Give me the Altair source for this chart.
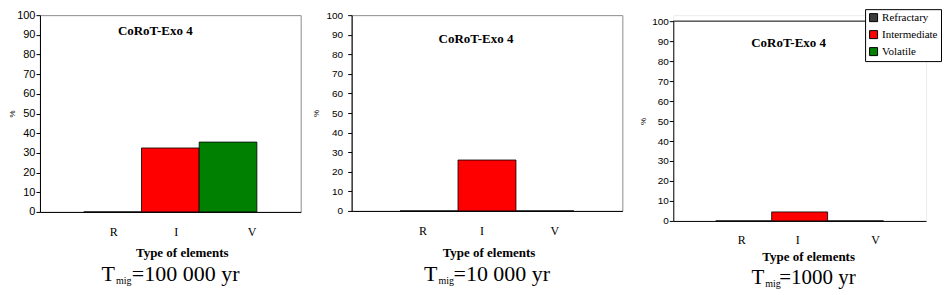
import altair as alt
import pandas as pd

# ---- data ----
cats = ["R", "I", "V"]
series = ["Refractary", "Intermediate", "Volatile"]
colors = ["#3c3c3c", "#ff0000", "#008000"]
vals_p1 = [0, 32.5, 35.5]
vals_p2 = [0, 26, 0]
vals_p3 = [0, 4.5, 0]
panel_title = "CoRoT-Exo 4"
x_title = "Type of elements"
y_title = "%"
tmig_T = "T"
tmig_sub = "mig"
tmig_rest = ["=100 000 yr", "=10 000 yr", "=1000 yr"]
y_ticks = list(range(0, 101, 10))

SERIF = "Liberation Serif"
SANS = "Liberation Sans"

legend = alt.Legend(
    orient="none", legendX=826, legendY=-6, title=None,
    symbolType="square", symbolSize=64, symbolStrokeColor="black",
    symbolStrokeWidth=1, labelFont=SERIF, labelFontSize=11,
    labelColor="black", strokeColor="black", fillColor="white",
    padding=3, rowPadding=4, labelOffset=3,
)


def panel(vals, w, h, yrange, po, offs, ylab_size, ylab_pad, ytitle_pad, tx, ty, lpad,
          ct, tm, tsize, rest, stroke, top_rule=False):
    df = pd.DataFrame({"cat": cats, "series": series, "val": vals})
    off_cond = {
        "condition": [
            {"test": "datum.value === 'R'", "value": offs[0]},
            {"test": "datum.value === 'I'", "value": offs[1]},
        ],
        "value": offs[2],
    }
    yscale = alt.Scale(domain=[0, 100], nice=False, range=yrange)
    yaxis = alt.Axis(
        values=y_ticks, grid=False, domainColor="black",
        tickColor="black", tickSize=4, labelFont=SANS,
        labelFontSize=ylab_size, labelPadding=ylab_pad, labelColor="black",
        title=y_title, titleFont=SANS, titleFontSize=8,
        titleFontWeight="normal", titleColor="black", titlePadding=ytitle_pad,
    )
    bars = alt.Chart(df).mark_bar(stroke="black", strokeWidth=0.8).encode(
        x=alt.X(
            "cat:N", sort=cats,
            scale=alt.Scale(domain=cats, paddingInner=0, paddingOuter=po),
            axis=alt.Axis(
                title=x_title, titleFont=SERIF, titleFontWeight="bold",
                titleFontSize=13, titleColor="black", titleX=tx, titleY=ty,
                titleBaseline="middle", ticks=False, domainColor="black",
                labelFont=SERIF, labelFontSize=12, labelColor="black",
                labelPadding=lpad, labelAngle=0, labelOffset=off_cond,
            ),
        ),
        y=alt.Y("val:Q", scale=yscale, axis=yaxis),
        color=alt.Color("series:N", scale=alt.Scale(domain=series, range=colors), legend=legend),
    )
    layers = [bars]
    if top_rule:
        layers.append(
            alt.Chart(pd.DataFrame({"val": [100]})).mark_rule(color="black", strokeWidth=1).encode(
                y=alt.Y("val:Q", scale=yscale, axis=yaxis))
        )
    tdf = pd.DataFrame({"t": [panel_title]})
    layers.append(
        alt.Chart(tdf).mark_text(font=SERIF, fontWeight="bold", fontSize=13, align="left",
                                 baseline="middle", color="black").encode(
            text="t:N", x=alt.value(ct[0]), y=alt.value(ct[1]))
    )
    layers.append(
        alt.Chart(pd.DataFrame({"t": [tmig_T]})).mark_text(font=SERIF, fontSize=tsize, align="right",
                                                          baseline="alphabetic", color="black").encode(
            text="t:N", x=alt.value(tm[0]), y=alt.value(tm[1]))
    )
    layers.append(
        alt.Chart(pd.DataFrame({"t": [tmig_sub]})).mark_text(font=SERIF, fontSize=10, align="left",
                                                            baseline="alphabetic", color="black").encode(
            text="t:N", x=alt.value(tm[0] + 1), y=alt.value(tm[1] + 3))
    )
    layers.append(
        alt.Chart(pd.DataFrame({"t": [rest]})).mark_text(font=SERIF, fontSize=tsize, align="left",
                                                        baseline="alphabetic", color="black").encode(
            text="t:N", x=alt.value(tm[2]), y=alt.value(tm[1]))
    )
    return alt.layer(*layers).properties(width=w, height=h, view=alt.ViewBackground(stroke=stroke))


p1 = panel(vals_p1, 261, 197, [197, 0], 0.759, [1, 6, 24], 11, 1, 0, 142, 41, 15,
           (78, 16), (75, 266, 92), 22, tmig_rest[0], "#8c8c8c")
p2 = panel(vals_p2, 271, 196, [196, 0], 0.836, [-6, -5, 10], 10, 5, 5, 137, 42, 15,
           (87, 24), (86, 266, 102), 22, tmig_rest[1], "#8c8c8c")
p3 = panel(vals_p3, 253, 206, [206, 6], 0.759, [-2, -2, 20], 10, 1, 4, 135, 36, 14,
           (78, 28), (91, 269, 106), 21, tmig_rest[2], "#ececec", top_rule=True)

left = alt.hconcat(p1, p2, spacing=10).resolve_scale(color="shared")
chart = alt.hconcat(left, p3, spacing=15).resolve_scale(color="shared").properties(
    padding=0, background="white"
)

chart.save("out.html", embed_options={"renderer": "svg", "actions": False})
